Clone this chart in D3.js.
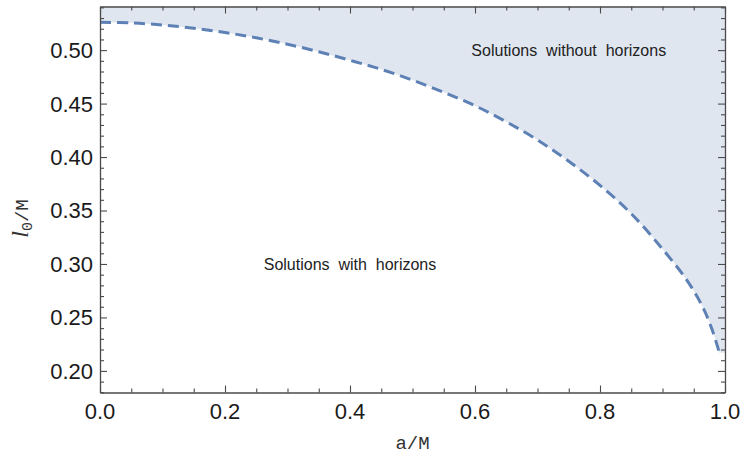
<!DOCTYPE html>
<html>
<head>
<meta charset="utf-8">
<script src="https://cdn.jsdelivr.net/npm/d3@7"></script>
<style>
  html, body { margin: 0; padding: 0; background: #fff; }
  svg { display: block; }
</style>
</head>
<body>
<svg id="chart" width="742" height="455"></svg>
<script>
// ---- data ----
const spinValues = [0, 0.05, 0.1, 0.15, 0.2, 0.25, 0.3, 0.35, 0.4, 0.45, 0.5, 0.55, 0.6, 0.65, 0.7, 0.75, 0.8, 0.85, 0.9, 0.94, 0.965, 0.98, 0.991];
const lengthValues = [0.526, 0.5255, 0.5235, 0.5205, 0.5165, 0.5115, 0.5055, 0.4985, 0.4905, 0.482, 0.472, 0.4605, 0.448, 0.433, 0.416, 0.396, 0.3735, 0.347, 0.314, 0.284, 0.259, 0.2375, 0.217];
const xTickValues = [0.0, 0.2, 0.4, 0.6, 0.8, 1.0];
const xTickLabels = ["0.0", "0.2", "0.4", "0.6", "0.8", "1.0"];
const yTickValues = [0.20, 0.25, 0.30, 0.35, 0.40, 0.45, 0.50];
const yTickLabels = ["0.20", "0.25", "0.30", "0.35", "0.40", "0.45", "0.50"];
const annotationTexts = ["Solutions  with  horizons", "Solutions  without  horizons"];
const annotationA = [0.4, 0.75];
const annotationL = [0.3, 0.5];

(function () {
// ---- layout ----
const svg = d3.select("#chart");
const mLeft = 100, mRight = 725, mTop = 6.5, mBottom = 392.5;
const x = d3.scaleLinear().domain([0, 1]).range([mLeft, mRight]);
const y = d3.scaleLinear().domain([0.1798, 0.5408]).range([mBottom, mTop]);

const lineColor = "rgb(94,129,181)";
const fillColor = "rgb(223,230,240)";
const frameColor = "#4a4a4a";
const curve = d3.curveCatmullRom.alpha(0.5);

const pts = spinValues.map((a, i) => ({a, l: lengthValues[i]}));

// filled region above the curve, closed along the top-right corner
const curvePath = d3.line().x(d => x(d.a)).y(d => y(d.l)).curve(curve)(pts);
const last = pts[pts.length - 1];
svg.append("path")
  .attr("fill", fillColor)
  .attr("d", curvePath +
    `L${x(x.domain()[1])},${y(last.l)}L${x(x.domain()[1])},${mTop}L${x(pts[0].a)},${mTop}Z`);

svg.append("path")
  .datum(pts)
  .attr("fill", "none")
  .attr("stroke", lineColor)
  .attr("stroke-width", 3)
  .attr("stroke-dasharray", "11,6")
  .attr("d", d3.line().x(d => x(d.a)).y(d => y(d.l)).curve(curve));

// ---- axes (frame with ticks on all sides, pointing inward) ----
const xMinor = d3.range(0, 1.0001, 0.05);
const yMinor = d3.range(0.18, 0.5401, 0.01);
const major = 7, minor = 4;

function isMajorX(v) { return xTickValues.some(t => Math.abs(t - v) < 1e-6); }
function isMajorY(v) { return yTickValues.some(t => Math.abs(t - v) < 1e-6); }

const gB = svg.append("g").attr("transform", `translate(0,${mBottom})`);
gB.call(d3.axisTop(x).tickValues(xMinor).tickSizeInner(0).tickSizeOuter(0).tickFormat(""));
gB.selectAll(".tick line").attr("y2", d => -(isMajorX(d) ? major : minor));
const gT = svg.append("g").attr("transform", `translate(0,${mTop})`);
gT.call(d3.axisBottom(x).tickValues(xMinor).tickSizeInner(0).tickSizeOuter(0).tickFormat(""));
gT.selectAll(".tick line").attr("y2", d => (isMajorX(d) ? major : minor));

const gL = svg.append("g").attr("transform", `translate(${mLeft},0)`);
gL.call(d3.axisRight(y).tickValues(yMinor).tickSizeInner(0).tickSizeOuter(0).tickFormat(""));
gL.selectAll(".tick line").attr("x2", d => (isMajorY(d) ? major : minor));
const gR = svg.append("g").attr("transform", `translate(${mRight},0)`);
gR.call(d3.axisLeft(y).tickValues(yMinor).tickSizeInner(0).tickSizeOuter(0).tickFormat(""));
gR.selectAll(".tick line").attr("x2", d => -(isMajorY(d) ? major : minor));

[gB, gT, gL, gR].forEach(g => {
  g.selectAll("path.domain").attr("stroke", frameColor).attr("stroke-width", 1.3);
  g.selectAll(".tick line").attr("stroke", frameColor).attr("stroke-width", 1.1);
});

// tick labels
const labelFont = "'Liberation Sans', Arial, sans-serif";
svg.append("g").selectAll("text").data(xTickValues).join("text")
  .attr("x", d => x(d)).attr("y", 419)
  .attr("text-anchor", "middle")
  .attr("font-family", labelFont).attr("font-size", 22).attr("fill", "#1a1a1a")
  .text((d, i) => xTickLabels[i]);
svg.append("g").selectAll("text").data(yTickValues).join("text")
  .attr("x", mLeft - 7).attr("y", d => y(d))
  .attr("dy", "0.36em")
  .attr("text-anchor", "end")
  .attr("font-family", labelFont).attr("font-size", 22).attr("fill", "#1a1a1a")
  .text((d, i) => yTickLabels[i]);

// axis titles
svg.append("text")
  .attr("x", (mLeft + mRight) / 2).attr("y", 449)
  .attr("text-anchor", "middle")
  .attr("font-family", "'Liberation Mono', 'DejaVu Sans Mono', monospace")
  .attr("font-size", 19).attr("fill", "#333")
  .text("a/M");

const yt = svg.append("text")
  .attr("transform", `translate(28,${(mTop + mBottom) / 2 + 19}) rotate(-90)`)
  .attr("text-anchor", "middle")
  .attr("fill", "#333");
yt.append("tspan").attr("font-family", "'Liberation Serif', serif").attr("font-style", "italic").attr("font-size", 24).text("l");
yt.append("tspan").attr("font-family", "'Liberation Mono', monospace").attr("font-size", 15).attr("dy", 4).text("0");
yt.append("tspan").attr("font-family", "'Liberation Mono', monospace").attr("font-size", 19).attr("dy", -4).text("/M");

// annotations
svg.append("g").selectAll("text").data(annotationTexts).join("text")
  .attr("x", (d, i) => x(annotationA[i]))
  .attr("y", (d, i) => y(annotationL[i]))
  .attr("dy", "0.35em")
  .attr("text-anchor", "middle")
  .attr("font-family", labelFont).attr("font-size", 16).attr("fill", "#222")
  .style("white-space", "pre")
  .text(d => d);
})();
</script>
</body>
</html>
